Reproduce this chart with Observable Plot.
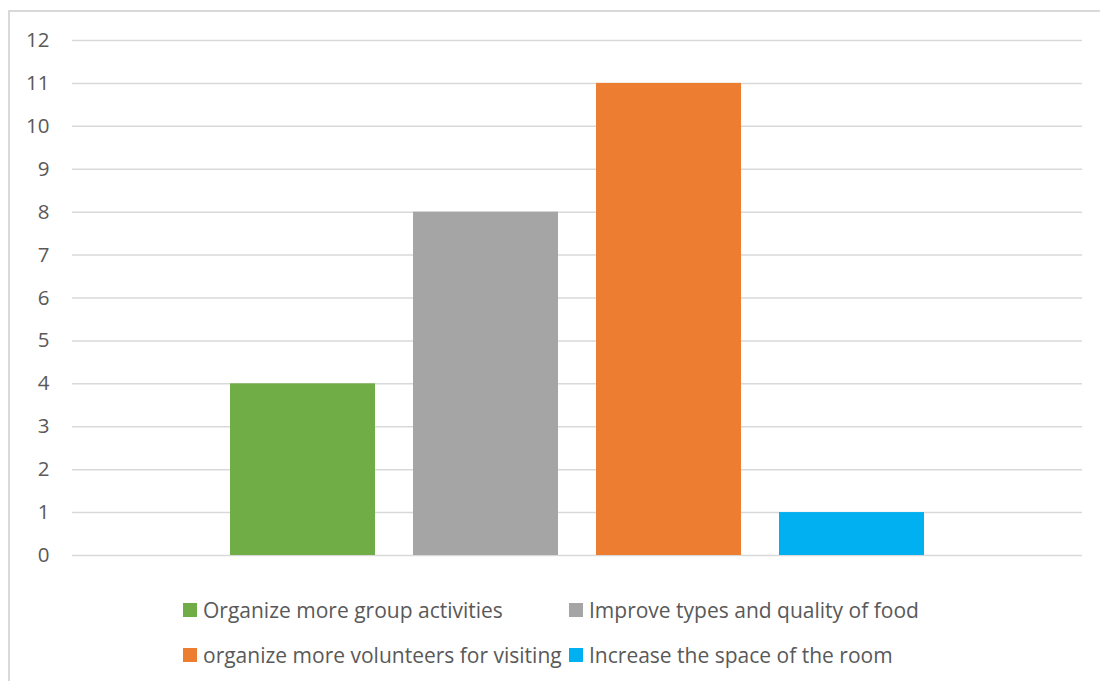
<!DOCTYPE html>
<html>
<head>
<meta charset="utf-8">
<script src="https://cdn.jsdelivr.net/npm/d3@7"></script>
<script src="https://cdn.jsdelivr.net/npm/@observablehq/plot@0.6"></script>
<style>
  html, body { margin: 0; padding: 0; background: #fff; }
  #wrap { position: relative; width: 1100px; height: 681px; overflow: hidden; font-family: "Open Sans", sans-serif; }
  #frame { position: absolute; left: 8px; top: 10px; width: 1200px; height: 800px; border: 2px solid #d9d9d9; box-sizing: border-box; }
  #chart { position: absolute; left: 0; top: 0; }
  .item { position: absolute; display: flex; align-items: center; font-size: 21px; line-height: 24px; height: 24px; color: #595959; white-space: nowrap; }
  .swatch { width: 14px; height: 14px; margin-right: 6px; flex: none; }
</style>
</head>
<body>
<div id="wrap">
  <div id="frame"></div>
  <div id="chart"></div>
  <div id="legend"></div>
</div>
<script>
// Survey suggestions and how many respondents chose each
const suggestions = [
  "Organize more group activities",
  "Improve types and quality of food",
  "organize more volunteers for visiting",
  "Increase the space of the room"
];
const counts = [4, 8, 11, 1];
const colors = ["#70ad47", "#a5a5a5", "#ed7d31", "#00b0f0"];
const yTicks = [0, 1, 2, 3, 4, 5, 6, 7, 8, 9, 10, 11, 12];

const rows = suggestions.map((s, i) => ({suggestion: s, count: counts[i]}));

const chart = Plot.plot({
  width: 1100,
  height: 580,
  marginTop: 40,
  marginBottom: 25,
  marginLeft: 72,
  marginRight: 18,
  style: {fontFamily: "'Open Sans', sans-serif", color: "#595959", background: "transparent"},
  x: {domain: suggestions, paddingInner: 0.2077, paddingOuter: 0.863, axis: null},
  y: {domain: [0, 12], axis: null},
  color: {domain: suggestions, range: colors},
  marks: [
    Plot.ruleY(yTicks, {stroke: "#d9d9d9", strokeWidth: 1.5}),
    Plot.barY(rows, {x: "suggestion", y: "count", fill: "suggestion"}),
    // tick labels drawn as text at each tick value, right-aligned left of the frame
    Plot.text(yTicks, {
      y: d => d, text: d => String(d), frameAnchor: "left", dx: -23,
      textAnchor: "end", fontSize: 20.5, fill: "#595959",
      fontFamily: "'Open Sans', sans-serif"
    })
  ]
});
document.getElementById("chart").appendChild(chart);

// Legend: two columns, two rows, below the plot
const legend = document.getElementById("legend");
const colX = [183, 569];
const rowY = [598, 643];
suggestions.forEach((s, i) => {
  const el = document.createElement("div");
  el.className = "item";
  el.style.left = colX[i % 2] + "px";
  el.style.top = rowY[Math.floor(i / 2)] + "px";
  const sw = document.createElement("span");
  sw.className = "swatch";
  sw.style.background = colors[i];
  const tx = document.createElement("span");
  tx.textContent = s;
  el.appendChild(sw);
  el.appendChild(tx);
  legend.appendChild(el);
});
</script>
</body>
</html>
